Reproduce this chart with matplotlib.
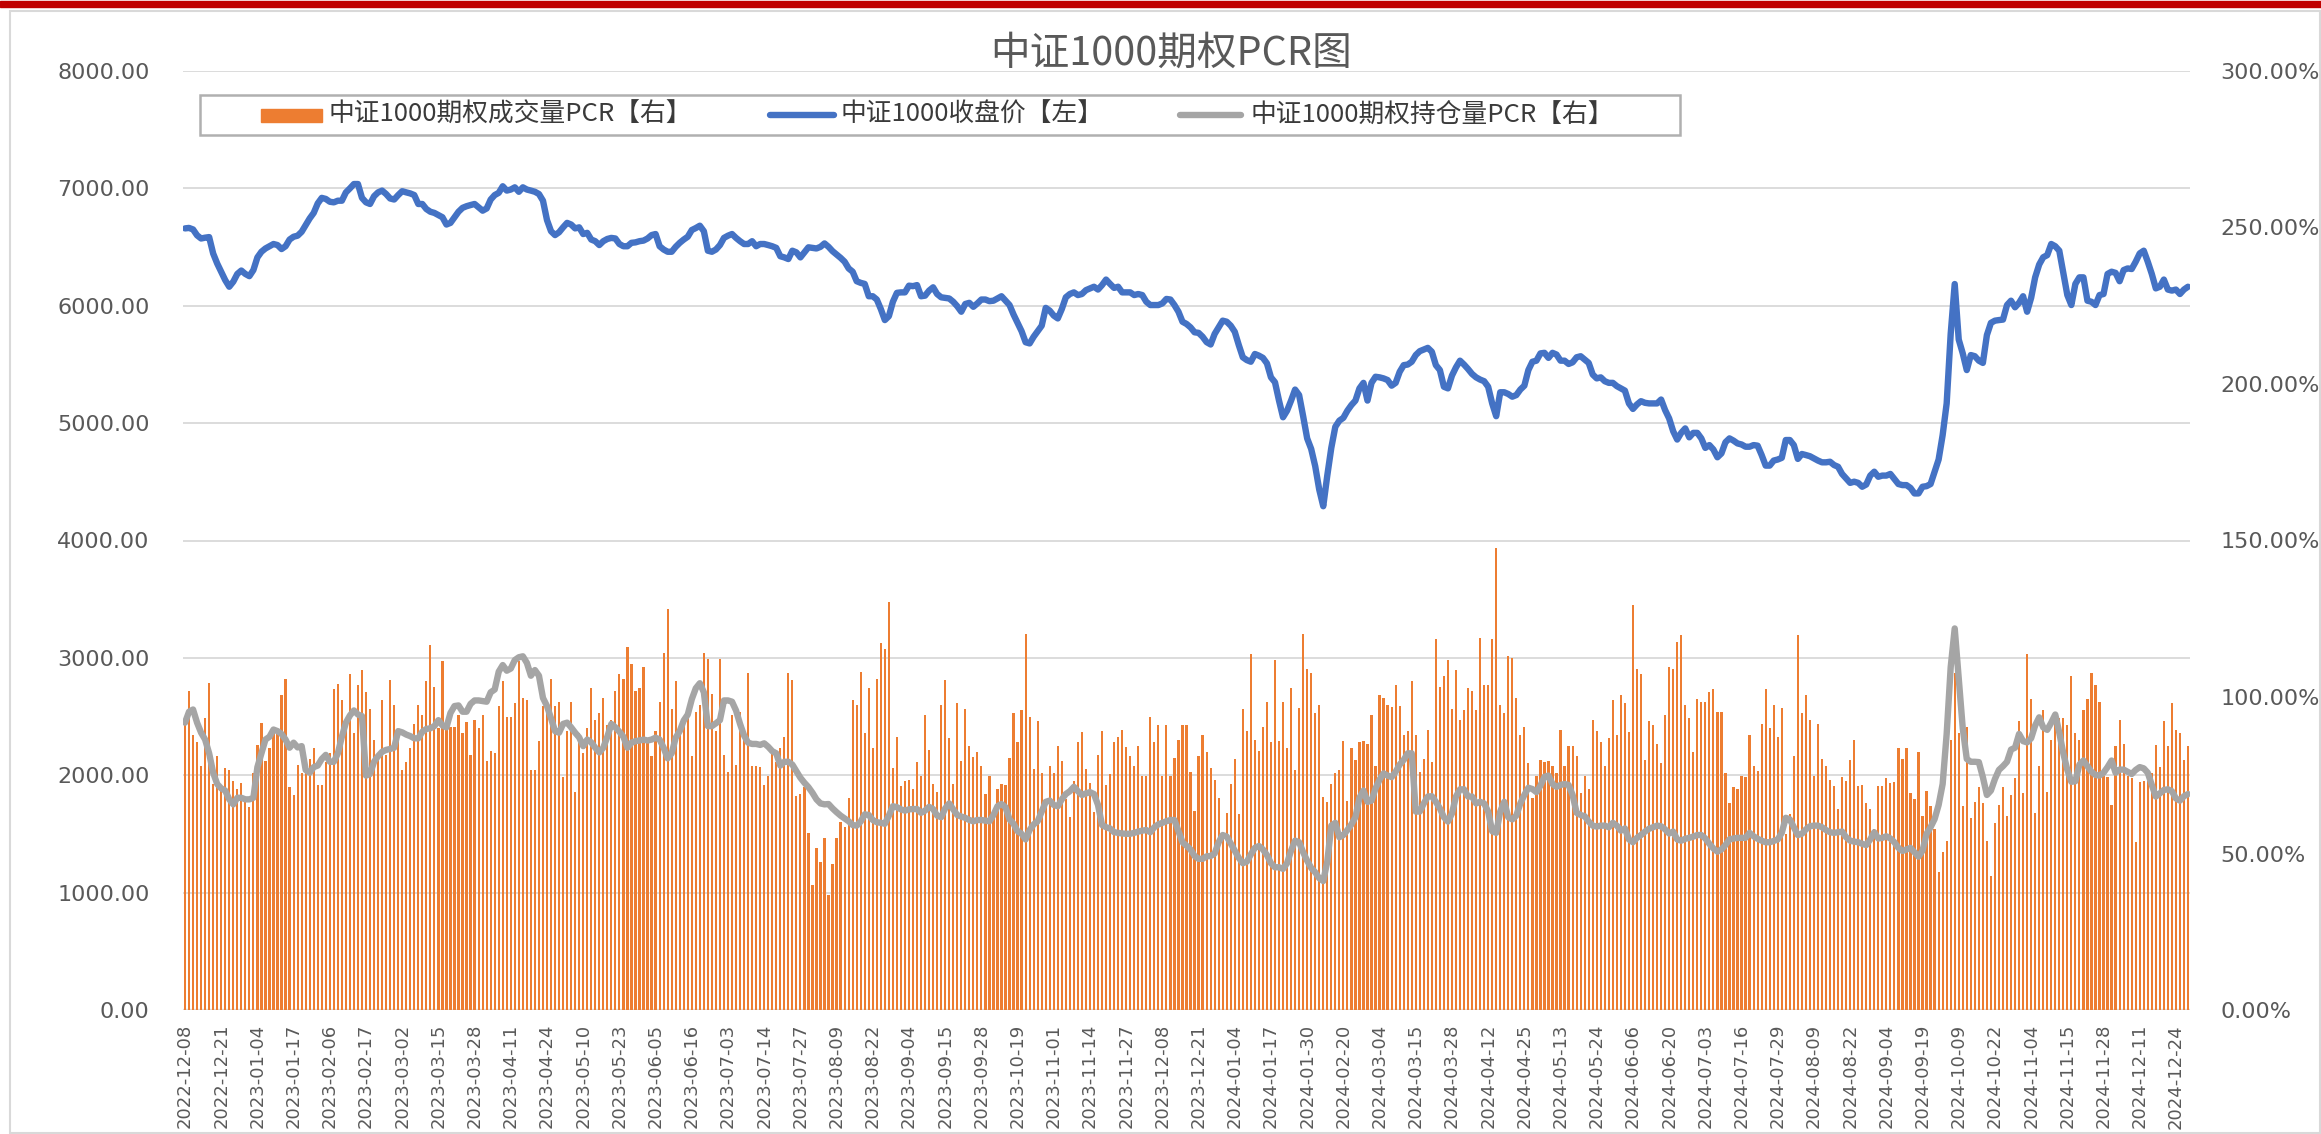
import matplotlib
matplotlib.use('Agg')
import matplotlib.pyplot as plt
from matplotlib.patches import Rectangle
from matplotlib.lines import Line2D
import numpy as np

tick_labels = [
    "2022-12-08", "2022-12-21", "2023-01-04", "2023-01-17", "2023-02-06", "2023-02-17",
    "2023-03-02", "2023-03-15", "2023-03-28", "2023-04-11", "2023-04-24", "2023-05-10",
    "2023-05-23", "2023-06-05", "2023-06-16", "2023-07-03", "2023-07-14", "2023-07-27",
    "2023-08-09", "2023-08-22", "2023-09-04", "2023-09-15", "2023-09-28", "2023-10-19",
    "2023-11-01", "2023-11-14", "2023-11-27", "2023-12-08", "2023-12-21", "2024-01-04",
    "2024-01-17", "2024-01-30", "2024-02-20", "2024-03-04", "2024-03-15", "2024-03-28",
    "2024-04-12", "2024-04-25", "2024-05-13", "2024-05-24", "2024-06-06", "2024-06-20",
    "2024-07-03", "2024-07-16", "2024-07-29", "2024-08-09", "2024-08-22", "2024-09-04",
    "2024-09-19", "2024-10-09", "2024-10-22", "2024-11-04", "2024-11-15", "2024-11-28",
    "2024-12-11", "2024-12-24",
]
tick_step = 9

# 中证1000收盘价 (left axis)
close_price = [
    6659, 6663, 6650, 6600, 6573, 6580, 6585, 6445, 6360, 6290,
    6218, 6162, 6205, 6271, 6300, 6271, 6252, 6304, 6412, 6460,
    6488, 6507, 6526, 6517, 6483, 6507, 6564, 6588, 6597, 6630,
    6687, 6744, 6791, 6872, 6919, 6910, 6886, 6881, 6895, 6895,
    6966, 7000, 7037, 7037, 6919, 6881, 6867, 6933, 6966, 6981,
    6952, 6914, 6905, 6943, 6976, 6966, 6957, 6943, 6867, 6867,
    6824, 6801, 6791, 6772, 6754, 6692, 6706, 6754, 6801, 6834,
    6848, 6858, 6867, 6838, 6810, 6829, 6905, 6943, 6962, 7018,
    6981, 6990, 7009, 6971, 7009, 6990, 6981, 6971, 6952, 6895,
    6730, 6635, 6602, 6626, 6668, 6706, 6692, 6659, 6668, 6611,
    6621, 6564, 6550, 6517, 6550, 6569, 6578, 6573, 6526, 6507,
    6507, 6536, 6540, 6550, 6555, 6573, 6602, 6611, 6507, 6479,
    6460, 6460, 6502, 6536, 6564, 6588, 6645, 6662, 6682, 6635,
    6469, 6460, 6479, 6517, 6578, 6597, 6611, 6578, 6550, 6526,
    6526, 6550, 6507, 6526, 6526, 6517, 6507, 6493, 6422, 6412,
    6398, 6469, 6455, 6412, 6455, 6498, 6493, 6488, 6502, 6531,
    6502, 6465, 6436, 6408, 6375, 6318, 6290, 6209, 6195, 6186,
    6081, 6081, 6053, 5972, 5878, 5911, 6034, 6110, 6114, 6114,
    6171, 6167, 6176, 6081, 6086, 6129, 6157, 6100, 6072, 6067,
    6062, 6034, 5996, 5949, 6015, 6025, 5991, 6020, 6053, 6053,
    6039, 6043, 6062, 6081, 6043, 6006, 5925, 5854, 5783, 5689,
    5679, 5736, 5783, 5830, 5982, 5958, 5916, 5892, 5972, 6072,
    6100, 6114, 6091, 6100, 6133, 6148, 6162, 6138, 6176, 6223,
    6186, 6152, 6162, 6114, 6114, 6114, 6091, 6100, 6091, 6034,
    6006, 6006, 6006, 6020, 6058, 6053, 6006, 5949, 5864, 5845,
    5816, 5774, 5769, 5736, 5690, 5670, 5760, 5816, 5873, 5864,
    5830, 5778, 5665, 5561, 5537, 5523, 5589, 5575, 5556, 5509,
    5390, 5348, 5192, 5050, 5106, 5192, 5286, 5239, 5059, 4870,
    4780, 4633, 4434, 4292, 4553, 4789, 4969, 5021, 5045, 5106,
    5154, 5192, 5296, 5343, 5192, 5343, 5395, 5390, 5381, 5367,
    5319, 5343, 5437, 5494, 5499, 5523, 5580, 5613, 5627, 5641,
    5608, 5494, 5452, 5310, 5296, 5405, 5475, 5532, 5499, 5461,
    5419, 5390, 5371, 5357, 5310, 5168, 5059, 5263, 5263, 5248,
    5225, 5239, 5286, 5319, 5452, 5523, 5532, 5594, 5599, 5556,
    5599, 5584, 5532, 5532, 5504, 5518, 5561, 5570, 5542, 5513,
    5414, 5381, 5390, 5357, 5343, 5343, 5315, 5296, 5277, 5168,
    5121, 5159, 5187, 5173, 5168, 5168, 5168, 5201, 5111, 5040,
    4931, 4860, 4917, 4955, 4879, 4917, 4917, 4870, 4789, 4813,
    4775, 4709, 4742, 4837, 4870, 4851, 4827, 4818, 4799, 4799,
    4813, 4808, 4728, 4638, 4638, 4681, 4690, 4704, 4856, 4856,
    4813, 4695, 4737, 4728, 4718, 4699, 4681, 4666, 4666, 4671,
    4643, 4628, 4567, 4529, 4491, 4501, 4491, 4458, 4477, 4553,
    4586, 4543, 4553, 4553, 4567, 4524, 4481, 4472, 4472, 4448,
    4401, 4401, 4458, 4463, 4481, 4586, 4690, 4898, 5168, 5760,
    6185, 5712, 5594, 5452, 5580, 5570, 5532, 5513, 5750, 5854,
    5873, 5878, 5882, 6006, 6043, 5987, 6025, 6081, 5949, 6067,
    6242, 6351, 6413, 6431, 6526, 6507, 6469, 6280, 6091, 6006,
    6186, 6242, 6242, 6043, 6034, 6006, 6091, 6100, 6271, 6290,
    6280, 6209, 6304, 6318, 6313, 6375, 6446, 6469, 6375, 6271,
    6148, 6162, 6223, 6138, 6129, 6138, 6100, 6138, 6162,
]

# 中证1000期权持仓量PCR (right axis, %)
oi_pcr = [
    91.8, 95.3, 96.0, 91.8, 88.6, 86.4, 82.0, 75.8, 72.2, 70.8,
    70.1, 67.3, 65.7, 67.8, 67.8, 67.3, 67.3, 67.8, 77.6, 82.0,
    86.4, 87.3, 89.6, 89.1, 88.2, 86.4, 83.8, 85.4, 83.9, 84.3,
    76.7, 75.8, 77.6, 78.1, 80.2, 81.5, 79.3, 79.3, 82.0, 87.3,
    91.8, 94.1, 95.7, 94.4, 93.9, 74.9, 75.4, 79.3, 81.1, 82.5,
    83.1, 83.4, 83.8, 89.1, 88.7, 88.0, 87.5, 86.8, 86.8, 88.9,
    89.8, 90.0, 90.7, 92.6, 90.9, 90.3, 94.9, 97.1, 97.3, 95.3,
    95.3, 97.8, 98.9, 98.9, 98.7, 98.5, 101.5, 102.4, 108.1, 110.2,
    108.4, 109.1, 111.8, 112.7, 113.0, 110.9, 106.8, 108.6, 106.8, 99.7,
    97.1, 93.2, 89.1, 88.6, 91.4, 91.8, 90.3, 88.6, 87.1, 84.3,
    86.4, 85.5, 83.8, 82.3, 83.8, 87.3, 91.4, 90.3, 88.9, 87.3,
    83.8, 85.4, 85.9, 86.1, 86.4, 86.1, 86.4, 87.0, 86.4, 83.8,
    80.4, 82.0, 87.0, 89.1, 92.5, 94.4, 99.3, 102.8, 104.4, 101.5,
    90.7, 90.7, 91.6, 92.6, 98.9, 98.9, 98.5, 95.7, 91.4, 87.7,
    85.4, 85.0, 85.0, 84.7, 85.2, 84.1, 82.7, 82.0, 78.1, 79.3,
    79.3, 78.4, 76.3, 74.2, 72.6, 71.2, 69.4, 67.3, 66.0, 65.7,
    65.8, 64.4, 63.2, 62.1, 61.2, 60.3, 59.1, 58.9, 60.2, 62.5,
    62.3, 60.7, 60.0, 59.8, 59.5, 62.1, 65.1, 64.8, 64.1, 63.7,
    64.1, 64.2, 64.2, 63.0, 63.7, 64.9, 64.2, 62.1, 61.6, 64.4,
    66.0, 64.1, 62.3, 61.8, 61.4, 60.7, 60.3, 60.7, 60.7, 60.5,
    60.3, 62.3, 65.1, 65.8, 64.8, 60.9, 59.5, 57.1, 56.3, 54.5,
    57.5, 59.3, 60.3, 63.4, 66.5, 66.9, 65.5, 65.1, 67.3, 69.0,
    69.9, 71.3, 69.9, 68.7, 69.2, 69.6, 69.0, 65.5, 59.1, 58.4,
    58.0, 56.8, 56.6, 56.4, 56.3, 56.3, 56.6, 57.0, 57.3, 57.5,
    56.8, 58.4, 59.3, 59.8, 60.3, 60.7, 60.7, 57.1, 53.6, 52.5,
    51.3, 49.2, 48.3, 48.3, 49.1, 49.2, 50.0, 53.6, 55.9, 55.4,
    53.2, 50.9, 48.6, 46.9, 47.4, 49.7, 51.8, 52.4, 51.3, 49.5,
    46.9, 45.6, 45.6, 45.1, 46.9, 50.9, 54.1, 53.6, 50.4, 47.7,
    45.4, 44.0, 42.1, 41.2, 47.4, 58.9, 59.8, 55.2, 55.9, 57.5,
    59.3, 61.6, 67.8, 70.1, 66.5, 66.9, 70.8, 73.6, 75.6, 74.9,
    74.4, 76.1, 78.4, 79.9, 82.0, 82.0, 63.4, 63.4, 66.0, 68.2,
    68.3, 66.5, 64.4, 61.6, 60.2, 62.8, 68.2, 70.5, 70.5, 68.2,
    68.2, 66.0, 66.5, 66.0, 63.4, 57.1, 56.6, 63.4, 66.5, 61.6,
    60.9, 62.1, 66.0, 68.7, 71.0, 70.6, 69.6, 71.7, 74.5, 74.9,
    72.2, 71.3, 71.9, 72.2, 71.9, 68.7, 63.0, 62.3, 61.9, 60.2,
    58.9, 58.6, 58.9, 58.9, 58.4, 59.8, 58.9, 57.3, 58.0, 54.5,
    53.6, 55.0, 55.9, 57.0, 57.9, 58.4, 58.9, 58.7, 57.7, 56.4,
    57.0, 54.5, 54.1, 54.7, 55.0, 55.4, 55.9, 55.9, 54.8, 53.1,
    51.6, 50.6, 51.3, 52.7, 54.5, 54.8, 55.0, 55.0, 55.0, 56.6,
    55.5, 54.7, 54.1, 53.6, 53.6, 54.0, 54.5, 56.6, 61.4, 60.9,
    58.4, 55.9, 56.3, 57.7, 58.7, 58.9, 58.9, 58.4, 57.5, 56.8,
    56.6, 56.8, 57.0, 55.2, 54.1, 53.8, 53.6, 53.1, 52.7, 54.5,
    56.8, 54.8, 55.0, 55.5, 54.8, 53.6, 51.8, 50.8, 51.3, 51.8,
    50.4, 49.0, 50.9, 56.3, 58.4, 61.0, 65.5, 72.2, 88.2, 109.5,
    121.9, 105.9, 90.0, 80.2, 79.3, 79.3, 79.2, 74.4, 68.7, 70.1,
    73.8, 76.7, 77.9, 79.3, 83.2, 83.8, 88.2, 85.9, 85.5, 86.8,
    90.9, 93.5, 90.3, 89.5, 91.8, 94.4, 88.6, 82.0, 76.7, 72.9,
    73.1, 78.4, 79.7, 77.9, 76.1, 75.1, 74.9, 75.8, 77.6, 79.7,
    75.8, 76.8, 76.8, 76.1, 75.4, 76.7, 77.6, 77.2, 75.8, 71.9,
    68.2, 69.2, 70.3, 70.5, 69.9, 67.6, 66.9, 68.3, 69.0,
]

# 中证1000期权成交量PCR (right axis, %)
vol_pcr = [
    91.8, 102.0, 87.8, 85.5, 77.9, 93.2, 104.5, 72.2, 81.1, 71.9,
    77.2, 76.7, 73.1, 70.5, 72.6, 67.8, 64.8, 75.8, 84.7, 91.8,
    79.7, 83.8, 89.1, 89.1, 100.6, 105.9, 71.3, 68.7, 78.4, 75.8,
    78.4, 80.2, 83.8, 71.9, 71.9, 79.3, 82.0, 102.4, 104.2, 99.2,
    91.8, 107.4, 88.6, 103.8, 108.6, 101.5, 96.2, 86.4, 82.0, 99.2,
    81.5, 105.4, 97.4, 89.1, 76.7, 79.3, 83.8, 91.4, 97.4, 94.4,
    105.1, 116.6, 103.3, 90.0, 111.6, 90.9, 90.3, 90.3, 94.4, 88.6,
    92.1, 81.5, 92.6, 90.0, 94.4, 79.7, 82.9, 82.0, 97.1, 105.1,
    93.5, 93.5, 98.0, 111.6, 99.7, 98.9, 76.7, 76.7, 86.1, 97.1,
    96.7, 105.9, 97.1, 98.5, 74.4, 89.1, 98.5, 69.6, 88.6, 82.0,
    90.0, 102.8, 92.6, 94.9, 99.7, 90.9, 92.6, 102.0, 107.4, 105.6,
    116.1, 110.4, 102.0, 102.8, 109.5, 85.5, 81.1, 89.1, 98.5, 113.9,
    128.1, 96.2, 105.1, 88.2, 93.5, 96.2, 81.1, 95.3,
    97.6, 113.9, 112.2, 101.0, 89.1, 112.2, 81.5, 76.1, 94.4, 78.4,
    95.3, 89.1, 107.7, 77.9, 77.9, 77.6, 71.9, 74.9, 82.9, 79.3,
    83.8, 87.3, 107.7, 105.4, 68.3, 69.0, 71.3, 56.6, 39.9, 51.8,
    47.4, 54.8, 36.7, 46.5, 54.8, 60.2, 58.4, 67.8, 99.2, 97.4,
    108.1, 88.6, 102.8, 83.8, 105.9, 117.1, 115.2, 130.4, 77.2, 87.3,
    71.7, 73.1, 73.5, 70.5, 79.3, 74.9, 94.1, 83.2, 72.2, 69.6,
    97.4, 105.4, 86.8, 72.2, 98.0, 79.7, 96.2, 84.3, 80.7, 82.3,
    78.1, 69.0, 74.9, 61.6, 70.5, 72.2, 71.9, 80.6, 94.9, 85.5,
    95.7, 120.1, 93.5, 77.0, 92.3, 75.8, 66.9, 78.1, 75.8, 84.3,
    79.7, 67.3, 61.6, 73.1, 85.5, 88.7, 77.0, 72.6, 63.4, 81.5,
    89.1, 71.9, 75.4, 85.5, 87.3, 89.6, 84.1, 81.1, 77.9, 84.3,
    74.9, 74.9, 93.5, 85.5, 90.9, 74.9, 90.9, 74.9, 80.6, 86.4,
    90.9, 90.9, 76.1, 63.7, 81.1, 87.7,
    82.5, 77.2, 73.5, 67.8, 56.3, 63.0, 72.2, 80.2, 62.5, 96.2,
    89.1, 113.6, 86.4, 82.9, 90.5, 98.3, 85.5, 111.8, 86.1, 98.3,
    83.8, 102.8, 76.7, 96.5, 120.1, 109.0, 107.7, 94.9, 97.6, 68.1,
    66.5, 72.2, 75.8, 76.7, 86.1, 66.9, 83.8, 79.9, 85.5, 86.1,
    85.0, 94.4, 78.1, 100.6, 99.7, 97.6, 96.7, 103.8, 97.1, 87.7,
    89.1, 105.1, 87.8, 76.1, 80.2, 89.6, 79.3, 118.4, 103.3, 106.8,
    111.8, 96.2, 108.6, 92.6, 95.7, 102.8, 102.0, 95.8, 118.7, 103.8,
    103.8, 118.4, 147.7, 97.6, 94.9, 113.0, 112.5, 99.7, 87.8, 90.5,
    78.8, 67.8, 74.9, 79.9, 79.3, 79.7, 77.9, 75.8, 89.6, 78.1,
    84.3, 84.3, 81.1, 69.2, 74.9, 70.5, 92.6, 89.1, 85.5, 78.1,
    87.0, 98.9, 87.8, 100.6, 98.0, 88.7, 129.4, 109.1, 107.2, 79.9,
    92.3, 91.2, 85.0, 78.8, 94.4, 109.5, 109.1, 117.5, 119.8, 97.4,
    93.2, 82.5, 99.4, 98.5, 98.5, 101.5, 102.4, 95.3,
    95.3, 75.8, 66.0, 71.3, 70.5, 74.9, 74.4, 87.7, 78.1, 76.3,
    91.4, 102.4, 90.0, 97.6, 87.3, 96.5, 56.3, 62.5, 81.1, 119.8,
    94.9, 100.6, 92.6, 74.9, 91.4, 80.2, 78.1, 73.5, 71.7, 64.2,
    74.4, 73.1, 79.9, 86.4, 71.7, 71.9, 66.0, 64.2, 57.7, 71.7,
    71.7, 74.0, 72.6, 72.8, 83.8, 80.2, 83.8, 69.2, 67.4, 82.5,
    62.1, 70.1, 65.1, 57.7, 44.2, 50.6, 54.1, 86.4, 107.7, 88.6,
    65.1, 90.3, 61.2, 66.5, 71.3, 66.0, 54.1, 42.9, 59.8, 65.5,
    71.3, 61.9, 68.7, 74.0, 92.3, 69.2, 113.6, 99.4, 62.8, 78.1,
    95.8, 69.6, 86.4, 93.5, 93.2, 93.2, 90.9, 106.8, 88.6, 86.4,
    95.8, 99.4, 107.7, 103.8, 98.5, 74.9, 74.5, 65.5, 84.3, 92.6,
    85.0, 74.9, 74.0, 53.6, 72.8, 73.1, 73.1, 75.8, 84.6, 77.6,
    92.3, 84.3, 98.0, 89.6, 88.6, 79.9, 84.3,
]

left_ticks = list(range(0, 8001, 1000))
right_ticks = list(range(0, 301, 50))

series_names = ["中证1000期权成交量PCR【右】", "中证1000收盘价【左】", "中证1000期权持仓量PCR【右】"]
title_text = "中证1000期权PCR图"

ORANGE = "#ED7D31"
BLUE = "#4472C4"
GRAY = "#A5A5A5"
TXT = "#595959"
CJK = ["Noto Sans CJK SC", "DejaVu Sans"]

W, H = 2321, 1134
fig = plt.figure(figsize=(W / 100, H / 100), dpi=100)
fig.patch.set_facecolor("white")


def fx(px):
    return px / W


def fy(py):
    return 1 - py / H


ax = fig.add_axes([fx(183), fy(1010), fx(2190) - fx(183), fy(71) - fy(1010)])
ax2 = ax.twinx()

n_close = len(close_price)
n_oi = len(oi_pcr)
n_vol = len(vol_pcr)
N = max(n_close, n_oi, n_vol)

ax.plot(np.arange(n_close), close_price, color=BLUE, lw=4.6,
        solid_joinstyle="round", solid_capstyle="round", zorder=3)
ax2.bar(np.arange(n_vol), vol_pcr, width=0.55, color=ORANGE, linewidth=0, zorder=1)
ax2.plot(np.arange(n_oi), oi_pcr, color=GRAY, lw=4.6,
         solid_joinstyle="round", solid_capstyle="round", zorder=2)

ax.set_xlim(-0.5, N - 0.5)
ax.set_ylim(0, 8000)
ax2.set_ylim(0, 300)

ax.set_yticks(left_ticks)
ax.set_yticklabels([f"{v:.2f}" for v in left_ticks])
ax2.set_yticks(right_ticks)
ax2.set_yticklabels([f"{v:.2f}%" for v in right_ticks])

ax.set_xticks(np.arange(len(tick_labels)) * tick_step)
ax.set_xticklabels(tick_labels, rotation=90)

ax.tick_params(axis="x", length=0, pad=10, labelsize=13, labelcolor=TXT)
ax.tick_params(axis="y", length=0, pad=24, labelsize=16, labelcolor=TXT)
ax2.tick_params(axis="y", length=0, pad=22, labelsize=16, labelcolor=TXT)

ax.grid(axis="y", color="#D9D9D9", lw=1.3)
ax.set_axisbelow(True)
ax.axhline(0, color="#D9D9D9", lw=2.4, zorder=0.5)
for a in (ax, ax2):
    for s in a.spines.values():
        s.set_visible(False)

# top red band and chart border
fig.patches.append(Rectangle((0, fy(7)), 1, fy(1) - fy(7), transform=fig.transFigure,
                             color="#C00000", zorder=0))
fig.patches.append(Rectangle((fx(10), fy(1133)), fx(2320) - fx(10), fy(11) - fy(1133),
                             transform=fig.transFigure, fill=False, edgecolor="#D9D9D9",
                             lw=1.5, zorder=0))

# title
fig.text(fx(1171), fy(54), title_text, ha="center", va="center", fontsize=28.5,
         color=TXT, family=CJK)

# legend (manual)
fig.patches.append(Rectangle((fx(200), fy(135)), fx(1680) - fx(200), fy(95) - fy(135),
                             transform=fig.transFigure, fill=False, edgecolor="#B0B0B0",
                             lw=1.8, zorder=5))
fig.patches.append(Rectangle((fx(261), fy(122)), fx(322) - fx(261), fy(109) - fy(122),
                             transform=fig.transFigure, color=ORANGE, zorder=6))
fig.lines.append(Line2D([fx(770), fx(834)], [fy(115), fy(115)], transform=fig.transFigure,
                        color=BLUE, lw=4.6, solid_capstyle="round", zorder=6))
fig.lines.append(Line2D([fx(1180), fx(1241)], [fy(115), fy(115)], transform=fig.transFigure,
                        color=GRAY, lw=4.6, solid_capstyle="round", zorder=6))
LTXT = "#3A3A3A"
for xpx, name in zip((329, 841, 1251), series_names):
    fig.text(fx(xpx), fy(115), name, ha="left", va="center", fontsize=18.5,
             color=LTXT, family=CJK)

fig.savefig("out.png", dpi=100, facecolor="white")
